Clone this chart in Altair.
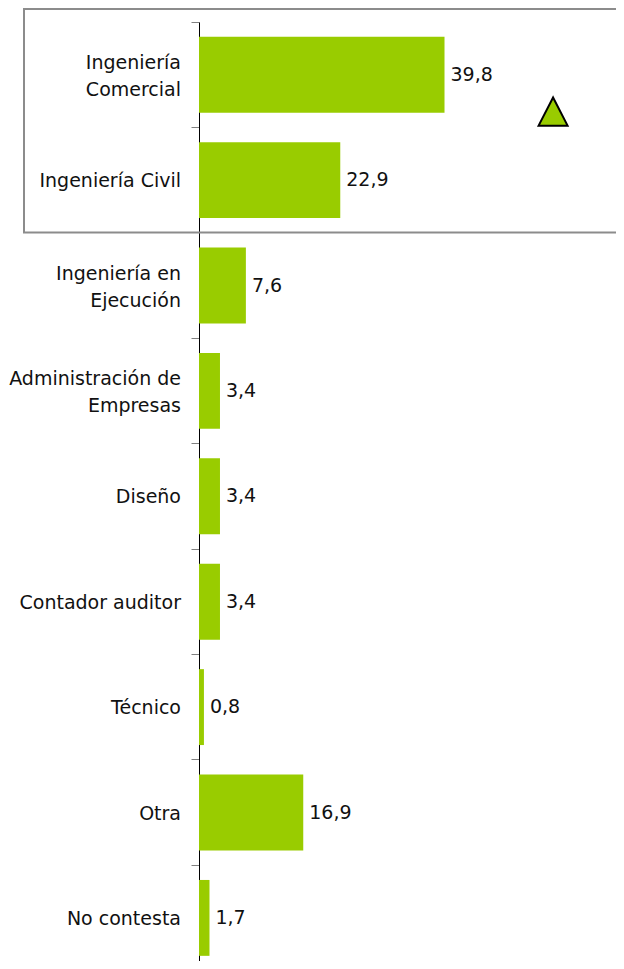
import altair as alt
import pandas as pd

categories = [
    "Ingeniería\nComercial",
    "Ingeniería Civil",
    "Ingeniería en\nEjecución",
    "Administración de\nEmpresas",
    "Diseño",
    "Contador auditor",
    "Técnico",
    "Otra",
    "No contesta",
]
values = [39.8, 22.9, 7.6, 3.4, 3.4, 3.4, 0.8, 16.9, 1.7]
value_labels = [f"{v:.1f}".replace(".", ",") for v in values]

marker_x = [57.4]
marker_cat = ["Ingeniería\nComercial"]

GREEN = "#99CC00"
FONT = "DejaVu Sans"

df = pd.DataFrame(
    {
        "cat": categories,
        "val": values,
        "lab": value_labels,
        "nlines": [c.count("\n") + 1 for c in categories],
    }
)
mk = pd.DataFrame({"cat": marker_cat, "val": marker_x})

xscale = alt.Scale(domain=[0, 67.6], nice=False, zero=True)
yscale = alt.Scale(paddingInner=0, paddingOuter=0, range=[0, 948.6])

y_enc = alt.Y(
    "cat:N",
    sort=categories,
    scale=yscale,
    axis=alt.Axis(
        labels=False,
        title=None,
        tickSize=8,
        tickColor="#808080",
        tickWidth=1,
        domainColor="#000000",
        domainWidth=1,
        bandPosition=0,
        grid=False,
    ),
)

box = alt.Chart(pd.DataFrame({"a": [0]})).mark_rect(
    fill="transparent", stroke="#8c8c8c", strokeWidth=2
).encode(
    x=alt.value(-175), x2=alt.value(600), y=alt.value(-13), y2=alt.value(210.5)
)

base = alt.Chart(df)

bars = base.mark_bar(color=GREEN, height=alt.RelativeBandSize(band=0.72)).encode(
    x=alt.X("val:Q", scale=xscale, axis=None),
    y=y_enc,
)

vals = base.mark_text(
    align="left", baseline="middle", dx=6, font=FONT, fontSize=19, color="#111111"
).encode(
    x=alt.X("val:Q", scale=xscale, axis=None),
    y=alt.Y("cat:N", sort=categories),
    text="lab:N",
)

cats1 = base.transform_filter("datum.nlines == 1").mark_text(
    align="right",
    baseline="middle",
    font=FONT,
    fontSize=19,
    color="#111111",
    dy=1,
).encode(
    x=alt.value(-18),
    y=alt.Y("cat:N", sort=categories),
    text="cat:N",
)

cats2 = base.transform_filter("datum.nlines == 2").mark_text(
    align="right",
    baseline="middle",
    font=FONT,
    fontSize=19,
    color="#111111",
    lineBreak="\n",
    lineHeight=27.5,
    dy=-12,
).encode(
    x=alt.value(-18),
    y=alt.Y("cat:N", sort=categories),
    text="cat:N",
)

tri = alt.Chart(mk).mark_point(
    shape="M0,-0.97L1,0.97L-1,0.97Z",
    filled=True,
    fill=GREEN,
    stroke="#000000",
    strokeWidth=2,
    opacity=1,
    size=841,
).encode(
    x=alt.X("val:Q", scale=xscale, axis=None),
    y=alt.Y("cat:N", sort=categories, bandPosition=0.85),
)

chart = (
    alt.layer(box, bars, vals, cats1, cats2, tri)
    .properties(
        width=417,
        height=939,
        padding={"left": 191, "top": 14, "right": 0, "bottom": 0},
        autosize=alt.AutoSizeParams(type="none"),
    )
    .configure_view(strokeWidth=0)
)

chart.save("out.html", embed_options={"renderer": "svg", "actions": False})
